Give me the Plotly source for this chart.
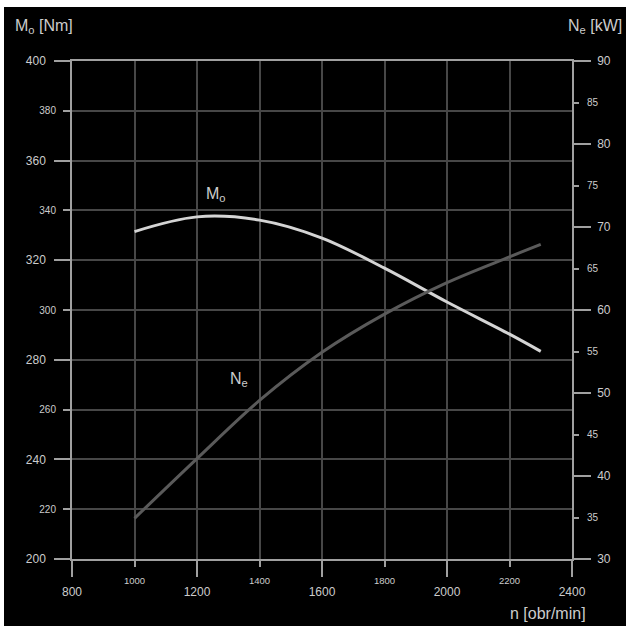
import plotly.graph_objects as go

# ---- data ----
n_rpm = [1000, 1200, 1400, 1600, 1800, 2000, 2200, 2300]
torque_Mo = [331.5, 337.4, 336.1, 328.9, 316.8, 303.2, 290.3, 283.4]
power_Ne = [34.9, 42.1, 49.1, 54.9, 59.5, 63.3, 66.4, 67.9]

x_major = [800, 1200, 1600, 2000, 2400]
x_minor = [1000, 1400, 1800, 2200]
y_major = [200, 240, 280, 320, 360, 400]
y_minor = [220, 260, 300, 340, 380]
y2_major = [30, 40, 50, 60, 70, 80, 90]
y2_minor = [35, 45, 55, 65, 75, 85]

FONT = "Liberation Sans, Arial, sans-serif"
NARROW = "Liberation Sans Narrow, Arial Narrow, Liberation Sans, sans-serif"
TXT = "#cccccc"
AXC = "#a0a0a0"
GRID = "#474747"

L, R, T, B = 72, 54, 61, 67
W = 626 - L - R
H = 626 - T - B

def px_x(p):
    return (p - L) / W

def px_y(p):
    return (626 - B - p) / H

fig = go.Figure()
fig.add_trace(go.Scatter(x=n_rpm, y=torque_Mo, mode="lines", line=dict(color="#d4d4d4", width=3, shape="spline"),
                         xaxis="x", yaxis="y", hoverinfo="skip", showlegend=False))
fig.add_trace(go.Scatter(x=n_rpm, y=power_Ne, mode="lines", line=dict(color="#5a5a5a", width=3, shape="spline"),
                         xaxis="x", yaxis="y2", hoverinfo="skip", showlegend=False))
# empty helpers so the overlay axes are drawn
fig.add_trace(go.Scatter(x=[], y=[], xaxis="x3", yaxis="y", showlegend=False))
fig.add_trace(go.Scatter(x=[], y=[], xaxis="x", yaxis="y3", showlegend=False))
fig.add_trace(go.Scatter(x=[], y=[], xaxis="x", yaxis="y4", showlegend=False))

common = dict(tickcolor=AXC, tickwidth=1.5, zeroline=False, fixedrange=True)

fig.update_layout(
    width=626, height=626,
    margin=dict(l=L, r=R, t=T, b=B),
    paper_bgcolor="black", plot_bgcolor="black",
    font=dict(family=FONT, color=TXT),
    showlegend=False,
    xaxis=dict(range=[800, 2400], tickvals=x_major, ticktext=[str(v) for v in x_major],
               ticks="outside", ticklen=16, ticklabelstandoff=5, tickfont=dict(size=12, color=TXT),
               showgrid=True, gridcolor=GRID, gridwidth=1.5,
               showline=True, linecolor=AXC, linewidth=1.5, mirror=True, **common),
    xaxis3=dict(range=[800, 2400], overlaying="x", anchor="y", side="bottom",
                tickvals=x_minor, ticktext=[str(v) for v in x_minor],
                ticks="outside", ticklen=7, ticklabelstandoff=6, tickfont=dict(family=NARROW, size=9.5, color=TXT),
                showgrid=True, gridcolor=GRID, gridwidth=1.5, showline=False, **common),
    yaxis=dict(range=[200, 400], tickvals=y_major, ticktext=[str(v) for v in y_major],
               ticks="outside", ticklen=16, ticklabelstandoff=6, tickfont=dict(size=12, color=TXT),
               showgrid=True, gridcolor=GRID, gridwidth=1.5,
               showline=True, linecolor=AXC, linewidth=1.5, **common),
    yaxis3=dict(range=[200, 400], overlaying="y", anchor="x", side="left",
                tickvals=y_minor, ticktext=[str(v) for v in y_minor],
                ticks="outside", ticklen=8, ticklabelstandoff=5, tickfont=dict(family=NARROW, size=10, color=TXT),
                showgrid=True, gridcolor=GRID, gridwidth=1.5, showline=False, **common),
    yaxis2=dict(range=[30, 90], overlaying="y", anchor="x", side="right",
                tickvals=y2_major, ticktext=[str(v) for v in y2_major],
                ticks="outside", ticklen=17, ticklabelstandoff=4, tickfont=dict(size=12, color=TXT),
                showgrid=False, showline=True, linecolor=AXC, linewidth=1.5, **common),
    yaxis4=dict(range=[30, 90], overlaying="y", anchor="x", side="right",
                tickvals=y2_minor, ticktext=[str(v) for v in y2_minor],
                ticks="outside", ticklen=6, ticklabelstandoff=6, tickfont=dict(size=10, color=TXT),
                showgrid=False, showline=False, **common),
)

# white strips at top and left edge of the picture
fig.add_shape(type="rect", xref="paper", yref="paper", x0=px_x(0), x1=px_x(626), y0=px_y(7), y1=px_y(0),
              fillcolor="white", line=dict(width=0), layer="above")
fig.add_shape(type="rect", xref="paper", yref="paper", x0=px_x(0), x1=px_x(4), y0=px_y(626), y1=px_y(0),
              fillcolor="white", line=dict(width=0), layer="above")

ann_font = dict(family=FONT, size=16, color=TXT)
fig.add_annotation(x=px_x(13), y=px_y(26), xref="paper", yref="paper", xanchor="left", yanchor="middle",
                   text="M<sub>o</sub> [Nm]", showarrow=False, font=ann_font)
fig.add_annotation(x=px_x(624), y=px_y(26), xref="paper", yref="paper", xanchor="right", yanchor="middle",
                   text="N<sub>e</sub> [kW]", showarrow=False, font=ann_font)
fig.add_annotation(x=px_x(588), y=px_y(613), xref="paper", yref="paper", xanchor="right", yanchor="middle",
                   text="n [obr/min]", showarrow=False, font=ann_font)
fig.add_annotation(x=1222, y=346.5, xref="x", yref="y", xanchor="left", yanchor="middle",
                   text="M<sub>o</sub>", showarrow=False, font=dict(family=FONT, size=16, color=TXT))
fig.add_annotation(x=1300, y=272, xref="x", yref="y", xanchor="left", yanchor="middle",
                   text="N<sub>e</sub>", showarrow=False, font=dict(family=FONT, size=16, color=TXT))

fig.write_html("out.html")
